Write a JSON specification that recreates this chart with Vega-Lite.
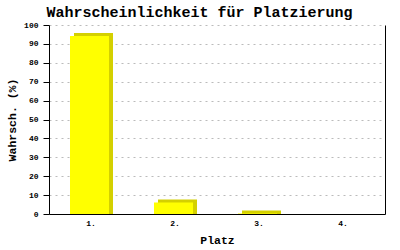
{
  "$schema": "https://vega.github.io/schema/vega-lite/v6.json",
  "width": 336,
  "height": 189,
  "autosize": {"type": "none"},
  "padding": {"left": 49, "top": 25, "right": 15, "bottom": 36},
  "background": "#ffffff",
  "title": {
    "text": "Wahrscheinlichkeit für Platzierung",
    "font": "Liberation Mono",
    "fontSize": 15,
    "fontWeight": "bold",
    "color": "#000000",
    "anchor": "middle",
    "baseline": "alphabetic",
    "offset": 7,
    "dx": -17.5,
    "dy": 18
  },
  "data": {
    "values": [
      {"platz": "1.", "wahrscheinlichkeit": 94.2},
      {"platz": "2.", "wahrscheinlichkeit": 6.1},
      {"platz": "3.", "wahrscheinlichkeit": 0.3},
      {"platz": "4.", "wahrscheinlichkeit": 0}
    ]
  },
  "encoding": {
    "x": {
      "field": "platz",
      "type": "ordinal",
      "sort": null,
      "scale": {"paddingInner": 0.49, "paddingOuter": 0.245},
      "axis": {
        "title": "Platz",
        "labelAngle": 0,
        "ticks": false,
        "labelPadding": 5,
        "titleY": 29.5,
        "titleBaseline": "alphabetic"
      }
    },
    "y": {
      "field": "wahrscheinlichkeit",
      "type": "quantitative",
      "stack": null,
      "scale": {"domain": [0, 100], "nice": false}
    }
  },
  "layer": [
    {
      "transform": [{"filter": "datum.wahrscheinlichkeit > 0"}],
      "mark": {
        "type": "bar",
        "color": "#d4d000",
        "size": 39,
        "xOffset": 2.5,
        "yOffset": -3,
        "y2Offset": 0
      },
      "encoding": {
        "y": {
          "field": "wahrscheinlichkeit",
          "type": "quantitative",
          "stack": null,
          "axis": {
            "title": "Wahrsch. (%)",
            "values": [0, 10, 20, 30, 40, 50, 60, 70, 80, 90, 100],
            "grid": true,
            "gridDash": [2, 4],
            "gridColor": "#bbbbbb",
            "tickSize": 6,
            "labelPadding": 5,
            "titleX": -37,
            "titleY": 94.5,
            "titleAngle": -90,
            "titleBaseline": "middle",
            "titleAlign": "center"
          }
        },
        "y2": {"datum": 0}
      }
    },
    {
      "mark": {"type": "bar", "color": "#ffff00", "size": 39, "xOffset": -1.5},
      "encoding": {
        "y": {
          "field": "wahrscheinlichkeit",
          "type": "quantitative",
          "stack": null,
          "axis": {
            "orient": "right",
            "title": null,
            "labels": false,
            "ticks": false,
            "grid": false
          }
        }
      }
    }
  ],
  "resolve": {"axis": {"y": "independent"}},
  "config": {
    "view": {"stroke": null},
    "axis": {
      "domainColor": "#000000",
      "domainWidth": 1,
      "tickColor": "#000000",
      "labelFont": "Liberation Mono",
      "labelFontSize": 8,
      "labelFontWeight": "bold",
      "labelColor": "#000000",
      "titleFont": "Liberation Mono",
      "titleFontSize": 11.5,
      "titleFontWeight": "bold",
      "titleColor": "#000000"
    }
  }
}
